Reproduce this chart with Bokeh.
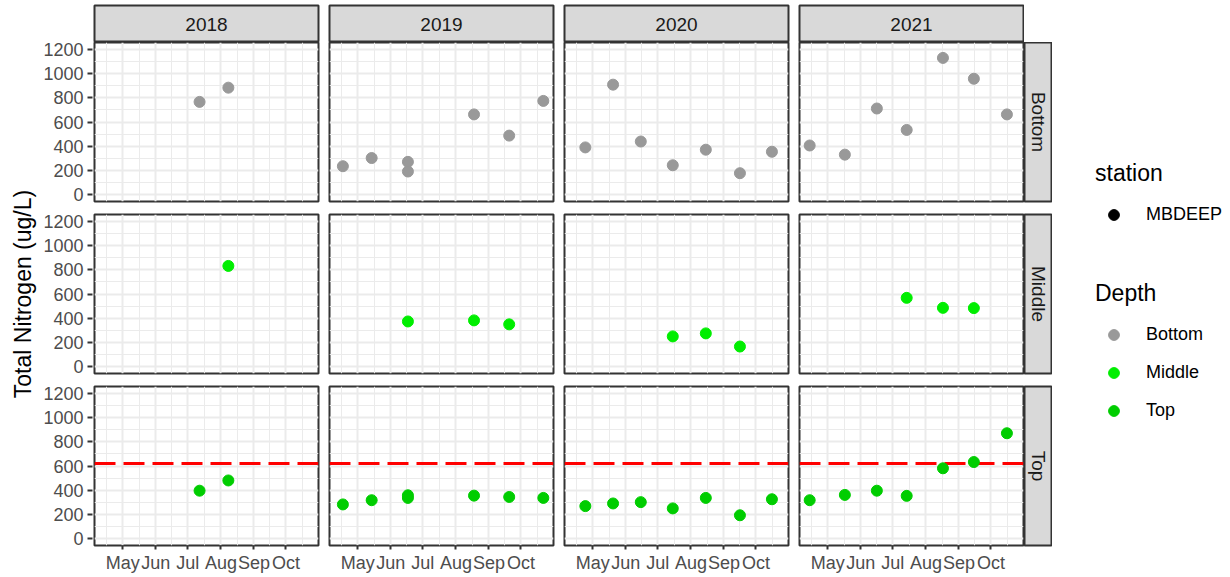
from datetime import datetime
from math import pi

from bokeh.plotting import figure
from bokeh.layouts import row, column
from bokeh.models import (ColumnDataSource, Range1d, FixedTicker, Grid, LinearAxis, DatetimeAxis,
                          DatetimeTickFormatter, Span, Legend, LegendItem, GridPlot, Label)
from bokeh.embed import file_html
from bokeh.resources import INLINE

# ---------------- data ----------------
years = [2018, 2019, 2020, 2021]
depths = ["Bottom", "Middle", "Top"]
depth_colors = ["#999999", "#00EE00", "#00CD00"]
station = ["MBDEEP"]
month_labels = ["May", "Jun", "Jul", "Aug", "Sep", "Oct"]
y_ticks = [0, 200, 400, 600, 800, 1000, 1200]
y_title = "Total Nitrogen (ug/L)"
threshold = 620

bottom_year = [2018, 2018,
               2019, 2019, 2019, 2019, 2019, 2019, 2019,
               2020, 2020, 2020, 2020, 2020, 2020, 2020,
               2021, 2021, 2021, 2021, 2021, 2021, 2021]
bottom_date = ["07-12", "08-08",
               "04-17", "05-14", "06-17", "06-17", "08-18", "09-20", "10-22",
               "04-24", "05-20", "06-15", "07-15", "08-15", "09-16", "10-16",
               "04-14", "05-17", "06-16", "07-14", "08-17", "09-15", "10-16"]
bottom_tn = [767, 885,
             233, 301, 269, 189, 663, 487, 775,
             389, 910, 438, 241, 370, 175, 353,
             405, 329, 712, 534, 1132, 959, 663]

middle_year = [2018,
               2019, 2019, 2019,
               2020, 2020, 2020,
               2021, 2021, 2021]
middle_date = ["08-08",
               "06-17", "08-18", "09-20",
               "07-15", "08-15", "09-16",
               "07-14", "08-17", "09-15"]
middle_tn = [833,
             372, 381, 348,
             248, 273, 164,
             568, 485, 483]

top_year = [2018, 2018,
            2019, 2019, 2019, 2019, 2019, 2019, 2019,
            2020, 2020, 2020, 2020, 2020, 2020, 2020,
            2021, 2021, 2021, 2021, 2021, 2021, 2021]
top_date = ["07-12", "08-08",
            "04-17", "05-14", "06-17", "06-17", "08-18", "09-20", "10-22",
            "04-24", "05-20", "06-15", "07-15", "08-15", "09-16", "10-16",
            "04-14", "05-17", "06-16", "07-14", "08-17", "09-15", "10-16"]
top_tn = [395, 480,
          281, 316, 357, 335, 354, 343, 335,
          267, 289, 300, 248, 335, 191, 324,
          316, 360, 395, 352, 581, 633, 872]

depth_data = {
    "Bottom": (bottom_year, bottom_date, bottom_tn),
    "Middle": (middle_year, middle_date, middle_tn),
    "Top": (top_year, top_date, top_tn),
}

# ---------------- helpers ----------------
COMMON_YEAR = 2021
EPOCH = datetime(1970, 1, 1)
FONT = "Liberation Sans"


def ms(d):
    return (d - EPOCH).total_seconds() * 1000.0


def to_date(md):
    m, d = md.split("-")
    return datetime(COMMON_YEAR, int(m), int(d))


all_dates = [to_date(s) for s in bottom_date + middle_date + top_date]
dmin, dmax = ms(min(all_dates)), ms(max(all_dates))
pad = 0.05 * (dmax - dmin)
xr = Range1d(dmin - pad, dmax + pad)

ymin, ymax = y_ticks[0], y_ticks[-1]
ypad = 0.05 * (ymax - ymin)
yr = Range1d(ymin - ypad, ymax + ypad)

month_nums = [datetime.strptime(m, "%b").month for m in month_labels]
x_major = [ms(datetime(COMMON_YEAR, m, 1)) for m in month_nums]
x_minor = []
for m in range(month_nums[0] - 1, month_nums[-1] + 1):
    a = ms(datetime(COMMON_YEAR, m, 1))
    b = ms(datetime(COMMON_YEAR, m + 1, 1))
    x_minor.append((a + b) / 2)
y_minor = [(y_ticks[i] + y_ticks[i + 1]) / 2 for i in range(len(y_ticks) - 1)]

# ---------------- layout constants ----------------
FW, FH = 224, 159
STRIP_H = 37
STRIP_W = 27
YLAB_W = 40
AXIS_W = 51
AXIS_GREY = "#4D4D4D"
BORDER = "#333333"
STRIP_FILL = "#D9D9D9"
TICK_FS = "18px"
STRIP_FS = "19px"

ROW_TOP = [5, 0, 7, 7]
ROW_BOT = [0, 6, 6, 31]
ROW_H = [STRIP_H, FH, FH, FH]
TOTAL_H = sum(ROW_TOP) + sum(ROW_BOT) + sum(ROW_H)
COL_LEFT = [1, 5, 5, 5, 0]
COL_RIGHT = [6, 6, 6, 1, 1]


def borders(r, c):
    return dict(min_border_left=COL_LEFT[c], min_border_right=COL_RIGHT[c],
                min_border_top=ROW_TOP[r], min_border_bottom=ROW_BOT[r])


def make_panel(r, c):
    depth = depths[r - 1]
    year = years[c]
    p = figure(frame_width=FW, frame_height=FH, x_range=xr, y_range=yr,
               x_axis_type=None, y_axis_type=None, output_backend="svg",
               toolbar_location=None, background_fill_color="white",
               border_fill_color="white", outline_line_color=BORDER,
               outline_line_width=2, **borders(r, c))
    xt = FixedTicker(ticks=x_major, minor_ticks=x_minor)
    yt = FixedTicker(ticks=y_ticks, minor_ticks=y_minor)
    for dim, tk in ((0, xt), (1, yt)):
        p.add_layout(Grid(dimension=dim, ticker=tk, grid_line_color="#EBEBEB",
                          grid_line_width=2, minor_grid_line_color="#EBEBEB",
                          minor_grid_line_width=1))
    if depth == "Top":
        p.add_layout(Span(location=threshold, dimension="width", line_color="#FF0000",
                          line_width=3, line_dash="21 8", level="underlay"))
    yrs, dts, vals = depth_data[depth]
    xs = [to_date(d) for y, d in zip(yrs, dts) if y == year]
    vs = [v for y, v in zip(yrs, vals) if y == year]
    src = ColumnDataSource(dict(x=xs, y=vs))
    col = depth_colors[r - 1]
    p.scatter("x", "y", source=src, size=11, fill_color=col, line_color=col)
    if depth == "Top":
        fmt = DatetimeTickFormatter(days="%b", months="%b", years="%b")
        ax = DatetimeAxis(ticker=xt, formatter=fmt, axis_line_color=None, major_tick_out=4,
                          major_tick_in=0, major_tick_line_color=BORDER, major_tick_line_width=2,
                          minor_tick_line_color=None, major_label_standoff=3,
                          major_label_text_font=FONT, major_label_text_font_size=TICK_FS,
                          major_label_text_color=AXIS_GREY)
        p.add_layout(ax, "below")
    return p


def make_yaxis(r):
    top = ROW_TOP[r] if r > 1 else ROW_TOP[0] + STRIP_H + ROW_BOT[0] + ROW_TOP[1]
    a = figure(frame_width=1, frame_height=FH, x_range=xr, y_range=yr,
               x_axis_type=None, y_axis_type=None, output_backend="svg",
               toolbar_location=None, outline_line_color=None, background_fill_color="white",
               border_fill_color="white", min_border_left=AXIS_W, min_border_right=0,
               min_border_top=top, min_border_bottom=ROW_BOT[r])
    yt = FixedTicker(ticks=y_ticks, minor_ticks=y_minor)
    ax = LinearAxis(ticker=yt, axis_line_color=None, major_tick_out=5, major_tick_in=0,
                    major_tick_line_color=BORDER, major_tick_line_width=2,
                    minor_tick_line_color=None, major_label_standoff=4,
                    major_label_text_font=FONT, major_label_text_font_size=TICK_FS,
                    major_label_text_color=AXIS_GREY)
    a.add_layout(ax, "left")
    return a


def make_top_strip(c):
    s = figure(frame_width=FW, frame_height=STRIP_H, x_range=Range1d(0, 1), y_range=Range1d(0, 1),
               x_axis_type=None, y_axis_type=None, output_backend="svg", toolbar_location=None,
               background_fill_color=STRIP_FILL, border_fill_color="white",
               outline_line_color=BORDER, outline_line_width=2, **borders(0, c))
    s.add_layout(Label(x=0.5, y=0.5, text=str(years[c]), text_align="center",
                       text_baseline="middle", text_font=FONT, text_font_size=STRIP_FS,
                       text_color="#1A1A1A"))
    return s


def make_right_strip(r):
    s = figure(frame_width=STRIP_W, frame_height=FH, x_range=Range1d(0, 1), y_range=Range1d(0, 1),
               x_axis_type=None, y_axis_type=None, output_backend="svg", toolbar_location=None,
               background_fill_color=STRIP_FILL, border_fill_color="white",
               outline_line_color=BORDER, outline_line_width=2, **borders(r, 4))
    s.add_layout(Label(x=0.5, y=0.5, text=depths[r - 1], text_align="center",
                       text_baseline="middle", angle=-pi / 2, text_font=FONT,
                       text_font_size=STRIP_FS, text_color="#1A1A1A"))
    return s


children = []
for c in range(4):
    children.append((make_top_strip(c), 0, c))
for r in range(1, 4):
    for c in range(4):
        children.append((make_panel(r, c), r, c))
    children.append((make_right_strip(r), r, 4))

gp = GridPlot(children=children, toolbar_location=None, spacing=0)
axes_col = column(*[make_yaxis(r) for r in range(1, 4)], spacing=0)

# ---------------- y-axis title (shared) ----------------
mid_center_from_top = ROW_TOP[0] + ROW_H[0] + ROW_BOT[0] + ROW_H[1] + ROW_BOT[1] + ROW_TOP[2] + FH / 2
yl = figure(frame_width=YLAB_W, frame_height=TOTAL_H, x_axis_type=None, y_axis_type=None,
            output_backend="svg", toolbar_location=None, outline_line_color=None,
            min_border_left=0, min_border_right=0, min_border_top=0, min_border_bottom=0,
            x_range=Range1d(0, YLAB_W), y_range=Range1d(0, TOTAL_H))
yl.add_layout(Label(x=YLAB_W * 0.55, y=TOTAL_H - mid_center_from_top, text=y_title,
                    text_align="center", text_baseline="middle", angle=pi / 2, text_font=FONT,
                    text_font_size="23px", text_color="#000000"))

# ---------------- legends ----------------
lg = figure(frame_width=170, frame_height=TOTAL_H, x_axis_type=None, y_axis_type=None,
            output_backend="svg", toolbar_location=None, outline_line_color=None,
            min_border_left=0, min_border_right=0, min_border_top=0, min_border_bottom=0,
            x_range=xr, y_range=yr)
all_x = [to_date(d) for d in bottom_date + middle_date + top_date]
all_y = bottom_tn + middle_tn + top_tn
r_station = lg.scatter(x=all_x, y=all_y, size=11, fill_color="black", line_color="black",
                       visible=False)
r_depth = []
for d, col in zip(depths, depth_colors):
    yrs, dts, vals = depth_data[d]
    rr = lg.scatter(x=[to_date(s) for s in dts], y=vals, size=11, fill_color=col,
                    line_color=col, visible=False)
    r_depth.append(rr)

common = dict(padding=0, margin=0, spacing=11, glyph_width=37, glyph_height=27,
              label_height=27, label_standoff=14, label_text_font=FONT,
              label_text_font_size="18px", label_text_color="#000000",
              title_text_font=FONT, title_text_font_size="23px", title_text_font_style="normal",
              title_text_color="#000000", title_standoff=14, border_line_color=None,
              background_fill_alpha=0, inactive_fill_alpha=0)
leg1 = Legend(items=[LegendItem(label=station[0], renderers=[r_station])], title="station",
              location=(43, 348), **common)
leg2 = Legend(items=[LegendItem(label=d, renderers=[rr]) for d, rr in zip(depths, r_depth)],
              title="Depth", location=(43, 152), **common)
lg.add_layout(leg1)
lg.add_layout(leg2)

layout = row(yl, axes_col, gp, lg, spacing=0)

open("out.html", "w").write(file_html(layout, INLINE))
